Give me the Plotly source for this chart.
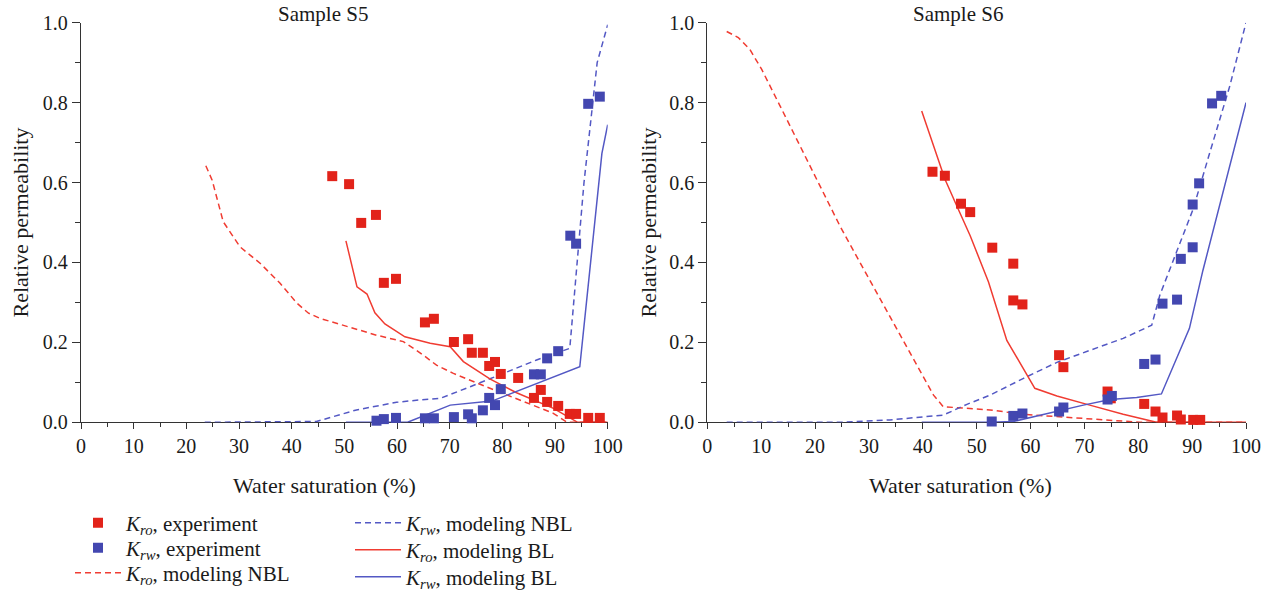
import plotly.graph_objects as go

# ---------------- Sample S5 ----------------
sw_ro_exp_s5 = [47.7, 50.9, 53.2, 56.0, 57.5, 59.8, 65.3, 67.0, 70.8, 73.5, 74.2, 76.3,
                77.5, 78.6, 79.7, 83.0, 86.0, 87.3, 88.5, 90.6, 92.8, 94.0, 96.3, 98.5]
kro_exp_s5 = [0.616, 0.596, 0.499, 0.519, 0.349, 0.359, 0.250, 0.259, 0.201, 0.208, 0.174, 0.174,
              0.141, 0.151, 0.121, 0.111, 0.061, 0.081, 0.051, 0.041, 0.021, 0.021, 0.011, 0.011]

sw_rw_exp_s5 = [56.1, 57.5, 59.8, 65.3, 67.0, 70.8, 73.5, 74.2, 76.3, 77.5, 78.6, 79.7,
                86.0, 87.3, 88.5, 90.6, 92.9, 94.0, 96.3, 98.5]
krw_exp_s5 = [0.004, 0.008, 0.011, 0.010, 0.010, 0.013, 0.020, 0.010, 0.030, 0.061, 0.043, 0.083,
              0.120, 0.120, 0.160, 0.178, 0.467, 0.447, 0.797, 0.815]

sw_ro_nbl_s5 = [23.7, 24.9, 27.0, 30.2, 34.0, 37.8, 41.0, 43.2, 45.4, 50.4, 56.1, 61.2,
                65.0, 67.5, 70.6, 77.1, 83.3, 89.6, 92.3, 100.0]
kro_nbl_s5 = [0.642, 0.606, 0.502, 0.439, 0.398, 0.348, 0.298, 0.273, 0.260, 0.241, 0.218, 0.202,
              0.168, 0.143, 0.123, 0.088, 0.056, 0.023, 0.0, 0.0]

sw_rw_nbl_s5 = [23.5, 44.7, 52.3, 59.9, 64.4, 68.2, 73.9, 80.2, 86.5, 92.8, 95.5, 98.0, 100.0]
krw_nbl_s5 = [0.0, 0.002, 0.031, 0.050, 0.056, 0.060, 0.089, 0.123, 0.156, 0.185, 0.600, 0.900, 0.995]

sw_ro_bl_s5 = [50.3, 52.4, 54.3, 55.8, 57.7, 61.5, 66.3, 70.1, 72.6, 77.7, 82.7, 89.7, 94.3, 100.0]
kro_bl_s5 = [0.454, 0.339, 0.321, 0.274, 0.246, 0.214, 0.198, 0.189, 0.152, 0.108, 0.074, 0.035, 0.0, 0.0]

sw_rw_bl_s5 = [50.3, 62.0, 70.1, 78.0, 94.7, 98.9, 100.0]
krw_bl_s5 = [0.0, 0.0, 0.043, 0.053, 0.139, 0.673, 0.745]

# ---------------- Sample S6 ----------------
sw_ro_exp_s6 = [41.8, 44.1, 47.1, 48.8, 52.9, 56.8, 56.8, 58.5, 65.3, 66.1, 74.3, 74.9,
                81.1, 83.2, 84.5, 87.2, 87.9, 90.2, 91.5]
kro_exp_s6 = [0.627, 0.617, 0.547, 0.526, 0.437, 0.397, 0.305, 0.295, 0.168, 0.138, 0.077, 0.060,
              0.046, 0.027, 0.012, 0.017, 0.007, 0.006, 0.006]

sw_rw_exp_s6 = [52.8, 56.8, 58.5, 65.3, 66.1, 74.3, 75.1, 81.1, 83.2, 84.5, 87.2, 87.9,
                90.1, 90.1, 91.3, 93.7, 95.4]
krw_exp_s6 = [0.002, 0.016, 0.022, 0.027, 0.037, 0.057, 0.066, 0.146, 0.157, 0.297, 0.307, 0.409,
              0.438, 0.545, 0.598, 0.798, 0.817]

sw_ro_nbl_s6 = [3.6, 5.75, 7.9, 10.1, 13.5, 17.2, 20.9, 24.6, 28.3, 32.1, 35.8, 39.5,
                42.0, 43.8, 47.5, 52.5, 58.6, 64.9, 71.0, 80.3, 100.0]
kro_nbl_s6 = [0.978, 0.963, 0.933, 0.883, 0.792, 0.692, 0.592, 0.492, 0.401, 0.309, 0.218, 0.127,
              0.068, 0.039, 0.035, 0.031, 0.020, 0.014, 0.007, 0.0, 0.0]

sw_rw_nbl_s6 = [3.6, 25.2, 33.9, 39.5, 43.8, 48.2, 52.5, 58.7, 64.9, 71.0, 77.2, 82.5,
                84.0, 87.1, 90.2, 93.3, 97.0, 100.0]
krw_nbl_s6 = [0.0, 0.0, 0.006, 0.012, 0.018, 0.045, 0.068, 0.110, 0.150, 0.180, 0.210, 0.243,
              0.318, 0.426, 0.534, 0.676, 0.842, 1.0]

sw_ro_bl_s6 = [39.8, 42.0, 44.1, 46.3, 48.8, 52.2, 55.6, 60.8, 64.9, 71.0, 77.2, 83.4, 100.0]
kro_bl_s6 = [0.779, 0.692, 0.609, 0.542, 0.467, 0.351, 0.205, 0.085, 0.066, 0.043, 0.020, 0.0, 0.0]

sw_rw_bl_s6 = [39.8, 52.5, 56.8, 60.5, 64.9, 69.8, 74.8, 79.7, 84.3, 89.5, 92.0, 96.0, 100.0]
krw_bl_s6 = [0.0, 0.0, 0.002, 0.014, 0.028, 0.043, 0.057, 0.062, 0.071, 0.235, 0.380, 0.590, 0.800]

x_ticks = [0, 10, 20, 30, 40, 50, 60, 70, 80, 90, 100]
y_ticks = [0.0, 0.2, 0.4, 0.6, 0.8, 1.0]
panel_titles = ["Sample S5", "Sample S6"]

# ---------------- styling ----------------
RED_MK = "#e2231a"
BLUE_MK = "#4347b0"
RED_LN = "#f03c32"
BLUE_LN = "#5358c4"
FONT = "Liberation Serif"
TXT = "#1a1a1a"
DASH = "6px,4px"
W, H = 1267, 593

names = {
    "ro_exp": "<i>K</i><sub><i>ro</i></sub>, experiment",
    "rw_exp": "<i>K</i><sub><i>rw</i></sub>, experiment",
    "ro_nbl": "<i>K</i><sub><i>ro</i></sub>, modeling NBL",
    "rw_nbl": "<i>K</i><sub><i>rw</i></sub>, modeling NBL",
    "ro_bl": "<i>K</i><sub><i>ro</i></sub>, modeling BL",
    "rw_bl": "<i>K</i><sub><i>rw</i></sub>, modeling BL",
}
# each legend entry gets its own legend box: (legend id, left x px, centre y px)
legend_slots = {
    "ro_exp": ("legend", 70, 523),
    "rw_exp": ("legend2", 70, 548),
    "ro_nbl": ("legend3", 70, 573),
    "rw_nbl": ("legend4", 350, 523),
    "ro_bl": ("legend5", 350, 550),
    "rw_bl": ("legend6", 350, 577),
}

fig = go.Figure()

panels = [
    ("x", "y", True,
     (sw_ro_exp_s5, kro_exp_s5), (sw_rw_exp_s5, krw_exp_s5),
     (sw_ro_nbl_s5, kro_nbl_s5), (sw_rw_nbl_s5, krw_nbl_s5),
     (sw_ro_bl_s5, kro_bl_s5), (sw_rw_bl_s5, krw_bl_s5)),
    ("x2", "y2", False,
     (sw_ro_exp_s6, kro_exp_s6), (sw_rw_exp_s6, krw_exp_s6),
     (sw_ro_nbl_s6, kro_nbl_s6), (sw_rw_nbl_s6, krw_nbl_s6),
     (sw_ro_bl_s6, kro_bl_s6), (sw_rw_bl_s6, krw_bl_s6)),
]

for xa, ya, show, ro_exp, rw_exp, ro_nbl, rw_nbl, ro_bl, rw_bl in panels:
    # model curves
    for key, data, color, dash in [("ro_nbl", ro_nbl, RED_LN, DASH),
                                   ("rw_nbl", rw_nbl, BLUE_LN, DASH),
                                   ("ro_bl", ro_bl, RED_LN, "solid"),
                                   ("rw_bl", rw_bl, BLUE_LN, "solid")]:
        fig.add_trace(go.Scatter(x=data[0], y=data[1], mode="lines", name=names[key],
                                 line=dict(color=color, width=1.5, dash=dash),
                                 xaxis=xa, yaxis=ya, showlegend=show,
                                 legend=legend_slots[key][0]))
    # experimental points
    for key, data, color in [("ro_exp", ro_exp, RED_MK), ("rw_exp", rw_exp, BLUE_MK)]:
        fig.add_trace(go.Scatter(x=data[0], y=data[1], mode="markers", name=names[key],
                                 marker=dict(symbol="square", size=10, color=color),
                                 cliponaxis=False, xaxis=xa, yaxis=ya, showlegend=show,
                                 legend=legend_slots[key][0]))

axis_common = dict(
    showline=True, linecolor="#333333", linewidth=1.3, mirror=False, automargin=False,
    showgrid=False, zeroline=False, ticks="outside", tickcolor="#333333",
    tickfont=dict(family=FONT, size=20, color=TXT), layer="below traces",
)
xaxis_common = dict(axis_common, range=[0, 100], tickvals=x_ticks, ticklen=6, tickwidth=1.2,
                    minor=dict(dtick=5, ticklen=4, tickwidth=1.2, ticks="outside",
                               tickcolor="#333333"))
yaxis_common = dict(axis_common, range=[0, 1], tickvals=y_ticks, tickformat=".1f",
                    ticklen=8, tickwidth=1.2,
                    minor=dict(dtick=0.1, ticklen=5, tickwidth=1.2, ticks="outside",
                               tickcolor="#333333"))

y_dom = [1 - 422.3 / H, 1 - 22.7 / H]
layout = dict(
    width=W, height=H,
    margin=dict(l=0, r=0, t=0, b=0, pad=0, autoexpand=False),
    paper_bgcolor="white", plot_bgcolor="white",
    font=dict(family=FONT, size=20, color=TXT),
    xaxis=dict(xaxis_common, domain=[81 / W, 607.7 / W], anchor="y"),
    yaxis=dict(yaxis_common, domain=y_dom, anchor="x"),
    xaxis2=dict(xaxis_common, domain=[707.3 / W, 1246 / W], anchor="y2"),
    yaxis2=dict(yaxis_common, domain=y_dom, anchor="x2"),
)
for key, (lid, lx, ly) in legend_slots.items():
    layout[lid] = dict(x=lx / W, y=1 - ly / H, xanchor="left", yanchor="middle",
                       font=dict(family=FONT, size=21, color=TXT), itemwidth=46,
                       bgcolor="rgba(0,0,0,0)")
fig.update_layout(**layout)

annotations = [
    dict(text=panel_titles[0], x=323 / W, y=1 - 14 / H, size=21),
    dict(text=panel_titles[1], x=958 / W, y=1 - 14 / H, size=21),
    dict(text="Water saturation (%)", x=324 / W, y=1 - 485 / H, size=22),
    dict(text="Water saturation (%)", x=960 / W, y=1 - 485 / H, size=22),
    dict(text="Relative permeability", x=20 / W, y=1 - 222.5 / H, size=22, textangle=-90),
    dict(text="Relative permeability", x=648 / W, y=1 - 222.5 / H, size=22, textangle=-90),
]
for a in annotations:
    size = a.pop("size")
    fig.add_annotation(xref="paper", yref="paper", showarrow=False,
                       xanchor="center", yanchor="middle",
                       font=dict(family=FONT, size=size, color=TXT), **a)

fig.write_html("out.html")
